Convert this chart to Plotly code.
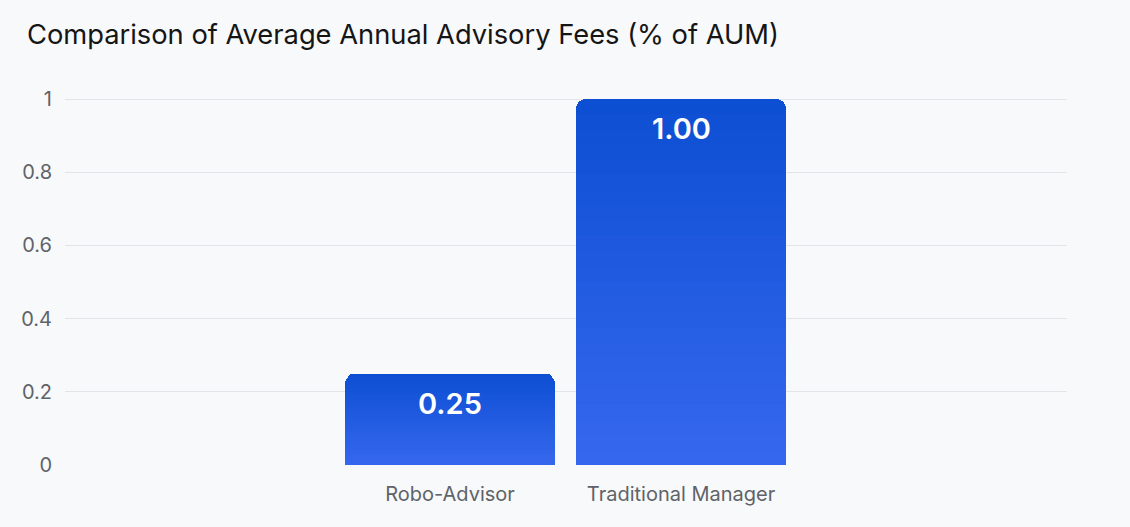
import plotly.graph_objects as go

# data
categories = ["Robo-Advisor", "Traditional Manager"]
fees = [0.25, 1.00]
y_ticks = [0, 0.2, 0.4, 0.6, 0.8, 1]

# gradient for the bars: dark at top, lighter at bottom
top_rgb = (13, 79, 211)
bottom_rgb = (53, 103, 238)
n_steps = 24
bg = "#f8f9fb"


def mix(a, b, t):
    return "rgb(%d,%d,%d)" % tuple(round(a[i] + (b[i] - a[i]) * t) for i in range(3))


fig = go.Figure()

# stacked slices, bottom to top
for i in range(n_steps):
    t = i / (n_steps - 1)
    fig.add_trace(go.Bar(
        x=categories,
        y=[v / n_steps for v in fees],
        width=0.91,
        marker=dict(color=mix(bottom_rgb, top_rgb, t), line=dict(width=0)),
        hoverinfo="skip",
        showlegend=False,
    ))

# value labels inside the bar tops
for cat, v in zip(categories, fees):
    fig.add_annotation(
        x=cat, y=v, text="%.2f" % v,
        showarrow=False, yanchor="top", yshift=-10,
        font=dict(family="Inter", size=29, weight=600, color="white"),
    )

fig.update_layout(
    width=1130,
    height=527,
    barmode="stack",
    barcornerradius=10,
    paper_bgcolor=bg,
    plot_bgcolor=bg,
    margin=dict(l=65, r=63, t=90, b=62),
    title=dict(
        text="Comparison of Average Annual Advisory Fees (% of AUM)",
        x=0, xref="paper", xanchor="left", y=0.935, yanchor="middle",
        pad=dict(l=-38),
        font=dict(family="Inter", size=27.3, color="#151515"),
    ),
    font=dict(family="Inter", color="#5f6368"),
    xaxis=dict(
        type="category",
        range=[-1.667, 2.671],
        showgrid=False,
        zeroline=False,
        ticklabelstandoff=15,
        tickfont=dict(size=20, color="#5f6368"),
    ),
    yaxis=dict(
        range=[0, 1.0246],
        tickvals=y_ticks,
        ticktext=[str(t) for t in y_ticks],
        showgrid=True,
        gridcolor="#e2e4e8",
        gridwidth=1,
        zeroline=False,
        ticklabelstandoff=12,
        tickfont=dict(size=20, color="#5f6368"),
    ),
)

# drop the default page margin so the chart sits at the window corner
fig.write_html(
    "out.html",
    config={"displayModeBar": False},
    post_script="document.body.style.margin='0';document.body.style.background='%s';" % bg,
)
